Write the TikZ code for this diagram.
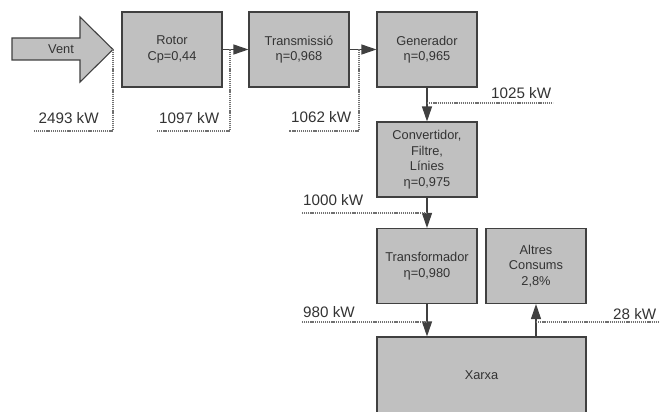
\documentclass[tikz,border=0pt]{standalone}
\usepackage{fontspec}
\setmainfont{Liberation Sans}
\usetikzlibrary{arrows.meta}
\definecolor{boxfill}{HTML}{C0C0C0}
\definecolor{boxline}{HTML}{404040}
\definecolor{txt}{HTML}{333333}
\definecolor{dotc}{HTML}{707070}
\begin{document}
\begin{tikzpicture}[x=1pt,y=-1pt,
  blk/.style={draw=boxline,fill=boxfill,line width=1.1pt,minimum width=100pt,minimum height=75pt,
    align=center,text=txt,font=\fontsize{12.8}{15.5}\selectfont,inner sep=0pt},
  flow/.style={draw=boxline,line width=1.1pt,-{Triangle[length=15pt,width=10pt]},shorten >=0pt},
  dotline/.style={draw=dotc,line width=1.3pt,dash pattern=on 1.2pt off 0.9pt},
  lbl/.style={text=txt,font=\fontsize{15.2}{18}\selectfont,inner sep=0pt,anchor=base west}]
\clip (0,0) rectangle (659,412);
\fill[white] (0,0) rectangle (659,412);
% Vent arrow
\draw[draw=boxline,fill=boxfill,line width=1.1pt] (12,38) -- (80,38) -- (80,17) -- (113,49.5) -- (80,82) -- (80,60) -- (12,60) -- cycle;
\node[text=txt,font=\fontsize{12.8}{15}\selectfont] (vent) at (61,49) {Vent};
\coordinate (venttip) at (113,49.5);
% boxes
\node[blk] (rotor) at (172,49.5) {Rotor\\Cp=0,44};
\node[blk] (trans) at (299,49.5) {Transmissió\\η=0,968};
\node[blk] (gen) at (427,49.5) {Generador\\η=0,965};
\node[blk] (conv) at (427,159.5) {Convertidor,\\Filtre,\\Línies\\η=0,975};
\node[blk] (trafo) at (427,266) {Transformador\\η=0,980};
\node[blk] (altres) at (536,266) {Altres\\Consums\\2,8\%};
\node[blk,minimum width=209pt,minimum height=76pt] (xarxa) at (481.5,375) {Xarxa};
% flows
\draw[flow] (rotor.east) -- (trans.west);
\draw[flow] (trans.east) -- (gen.west);
\draw[flow] (gen.south) -- (conv.north);
\draw[flow] (conv.south) -- (trafo.north);
\draw[flow] (trafo.south) -- (trafo.south |- xarxa.north);
\draw[flow] (altres.south |- xarxa.north) -- (altres.south);
% label lines
\coordinate (c1) at (230,49.5);
\coordinate (c2) at (359,49.5);
\coordinate (c3) at (427,103);
\coordinate (c4) at (427,213);
\coordinate (c5) at (427,322);
\coordinate (c6) at (536,322);
\draw[dotline] (venttip) -- (113,131) -- (33,131);
\draw[dotline] (c1) -- (230,131) -- (157,131);
\draw[dotline] (c2) -- (359,131) -- (289,131);
\draw[dotline] (c3) -- (553,103);
\draw[dotline] (c4) -- (302,213);
\draw[dotline] (c5) -- (302,322);
\draw[dotline] (c6) -- (659,322);
% labels
\node[lbl] (l1) at (38.5,123.5) {2493 kW};
\node[lbl] (l2) at (159,123.5) {1097 kW};
\node[lbl] (l3) at (291,122.5) {1062 kW};
\node[lbl] (l4) at (491,98.5) {1025 kW};
\node[lbl] (l5) at (303,205.5) {1000 kW};
\node[lbl] (l6) at (303,317.5) {980 kW};
\node[lbl] (l7) at (613,319.5) {28 kW};
\end{tikzpicture}
\end{document}
